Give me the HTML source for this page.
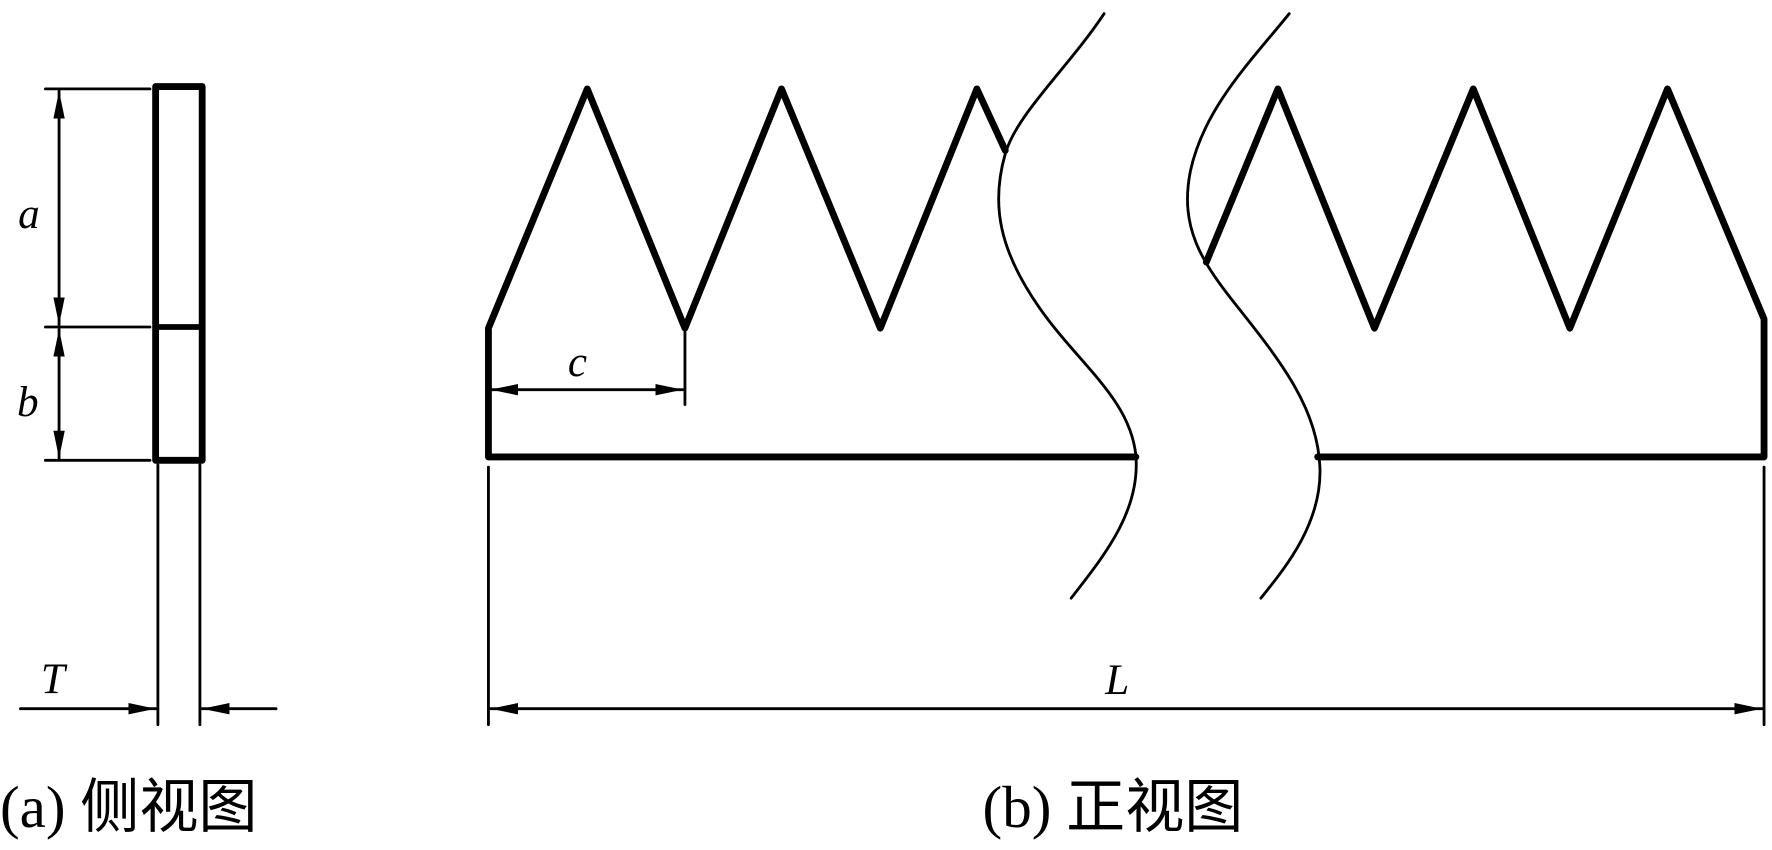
<!DOCTYPE html>
<html><head><meta charset="utf-8"><style>
html,body{margin:0;padding:0;background:#fff;width:1772px;height:850px;overflow:hidden}
svg{display:block}
</style></head><body>
<svg width="1772" height="850" viewBox="0 0 1560 746" preserveAspectRatio="none" xmlns="http://www.w3.org/2000/svg">
<defs>
<marker id="ar" viewBox="0 0 24 12" refX="24" refY="6" markerWidth="24" markerHeight="12" markerUnits="userSpaceOnUse" orient="auto-start-reverse">
<path d="M0,1 L24,6 L0,11 Z" fill="#000"/>
</marker>
</defs>
<g fill="none" stroke="#000" stroke-linecap="round" stroke-linejoin="round">
<rect x="137" y="76" width="41" height="328" stroke-width="6"/>
<line x1="137" y1="287" x2="178" y2="287" stroke-width="5"/>
<g stroke-width="2.5">
<line x1="40" y1="78" x2="132" y2="78"/>
<line x1="40" y1="287" x2="132" y2="287"/>
<line x1="40" y1="404" x2="132" y2="404"/>
<line x1="52" y1="80" x2="52" y2="285" marker-start="url(#ar)" marker-end="url(#ar)"/>
<line x1="52" y1="289" x2="52" y2="402" marker-start="url(#ar)" marker-end="url(#ar)"/>
<line x1="139" y1="408" x2="139" y2="636"/>
<line x1="176" y1="408" x2="176" y2="636"/>
<line x1="18" y1="622" x2="137" y2="622" marker-end="url(#ar)"/>
<line x1="243" y1="622" x2="178" y2="622" marker-end="url(#ar)"/>
</g>
<g stroke-width="6">
<polyline points="430,400 430,288 517,78 603,288 688,78 775,288 860,78 885,132"/>
<polyline points="1062,230 1125,78 1210,288 1297,78 1382,288 1468,78 1553,280 1553,400"/>
<line x1="430" y1="401" x2="1000" y2="401"/>
<line x1="1160" y1="401" x2="1553" y2="401"/>
</g>
<g stroke-width="2.5">
<path d="M972,12 C940,60 895,100 885,135 C872,180 880,220 915,270 C950,320 995,350 1000,400 C1004,450 970,490 943,525"/>
<path d="M1135,12 C1100,55 1060,95 1048,150 C1038,200 1058,230 1090,270 C1130,320 1160,360 1162,410 C1164,460 1130,500 1110,525"/>
<line x1="430" y1="410" x2="430" y2="636"/>
<line x1="1553" y1="410" x2="1553" y2="636"/>
<line x1="432" y1="622" x2="1551" y2="622" marker-start="url(#ar)" marker-end="url(#ar)"/>
<line x1="603" y1="290" x2="603" y2="355"/>
<line x1="432" y1="342" x2="601" y2="342" marker-start="url(#ar)" marker-end="url(#ar)"/>
</g>
</g>
<g font-family="Liberation Serif, serif" font-style="italic" font-size="38" fill="#000">
<text x="16" y="200">a</text>
<text x="15" y="365">b</text>
<text x="36" y="608">T</text>
<text x="500" y="330">c</text>
<text x="973" y="609">L</text>
</g>
<g font-family="Liberation Serif, 'Noto Sans CJK SC', serif" font-size="52" fill="#000">
<text x="0" y="726">(a) 侧视图</text>
<text x="865" y="726">(b) 正视图</text>
</g>
</svg>
</body></html>
